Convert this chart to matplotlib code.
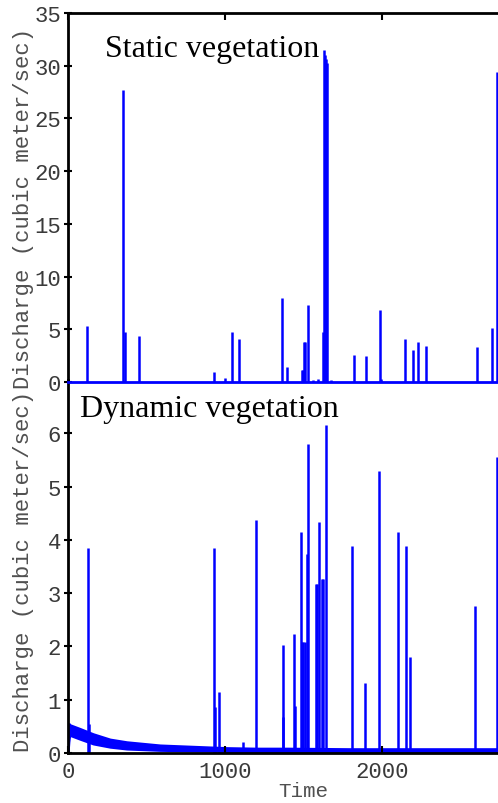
import matplotlib
matplotlib.use('Agg')
import matplotlib.pyplot as plt

# Static vegetation: discharge spikes (time, value)
static_t = [123, 352, 365, 452, 932, 1000, 1047, 1087, 1365, 1393, 1488, 1495, 1503,
            1510, 1527, 1562, 1594, 1622, 1631, 1636, 1641, 1648, 1673, 1824, 1900,
            1985, 1992, 2149, 2200, 2231, 2280, 2603, 2701, 2731]
static_q = [5.35, 27.7, 4.7, 4.4, 0.95, 0.4, 4.7, 4.05, 8.0, 1.4, 1.1, 1.1, 3.8,
            3.8, 7.3, 0.2, 0.3, 4.7, 31.5, 31.0, 30.6, 30.3, 0.2, 2.6, 2.5,
            6.8, 0.3, 4.1, 3.0, 3.75, 3.45, 3.3, 5.1, 29.4]
static_base_t = [0, 3000]
static_base_q = [0.0, 0.0]

# Dynamic vegetation: spikes
dyn_t = [125, 131, 932, 937, 964, 1115, 1197, 1367, 1372, 1439, 1446, 1484, 1492,
         1500, 1508, 1520, 1527, 1578, 1584, 1599, 1620, 1626, 1643, 1811, 1892,
         1983, 2100, 2153, 2180, 2592, 2731]
dyn_q = [3.85, 0.55, 3.85, 0.86, 1.15, 0.2, 4.38, 2.03, 0.68, 2.23, 0.89, 4.15, 2.08,
         2.08, 2.08, 3.73, 5.8, 3.17, 3.17, 4.33, 3.26, 3.26, 6.15, 3.88, 1.31,
         5.3, 4.15, 3.88, 1.80, 2.75, 5.55]

# Dynamic vegetation: baseflow band (upper / lower envelope)
base_t = [0, 8, 13, 76, 161, 268, 374, 586, 798, 1011, 1200, 1400, 1600, 1800,
          2000, 2200, 2400, 2600, 2800, 3000]
base_hi = [0.0, 0.55, 0.53, 0.46, 0.36, 0.26, 0.21, 0.15, 0.125, 0.1, 0.09, 0.09,
           0.085, 0.08, 0.08, 0.08, 0.08, 0.08, 0.08, 0.08]
base_lo = [0.0, 0.3, 0.33, 0.26, 0.17, 0.11, 0.075, 0.05, 0.04, 0.03, 0.02, 0.02,
           0.02, 0.02, 0.02, 0.02, 0.02, 0.02, 0.02, 0.02]

xticks = [0, 1000, 2000]
blue = '#0000ff'
mono = 'Liberation Mono'
serif = 'Liberation Serif'
gray = '#3a3a3a'

fig = plt.figure(figsize=(4.98, 8.04), dpi=100)
ax2 = fig.add_axes([0.1365, 0.0622, 0.9458, 0.4639])
ax1 = fig.add_axes([0.1365, 0.5236, 0.9458, 0.459])
ax1.patch.set_visible(False)

# top panel
ax1.plot(static_base_t, static_base_q, color=blue, lw=2, clip_on=False, zorder=3)
ax1.vlines(static_t, 0, static_q, colors=blue, lw=1.8, zorder=3)
ax1.set_xlim(0, 3000)
ax1.set_ylim(0, 35)
ax1.set_yticks(range(0, 36, 5))
ax1.set_xticks(xticks)
ax1.tick_params(axis='x', direction='in', top=True, bottom=False, labelbottom=False,
                length=5, width=1.5)
ax1.tick_params(axis='y', direction='inout', length=6, width=1.5, pad=2,
                labelsize=16, labelcolor=gray)
ax1.spines['bottom'].set_visible(False)
ax1.set_ylabel('Discharge (cubic meter/sec)', fontfamily=mono, fontsize=16, color='#505050')
ax1.yaxis.set_label_coords(-0.072, 0.474)

# bottom panel
ax2.fill_between(base_t, base_lo, base_hi, color=blue, lw=1.5)
ax2.vlines(dyn_t, 0, dyn_q, colors=blue, lw=1.8)
ax2.set_xlim(0, 3000)
ax2.set_ylim(0, 7)
ax2.set_yticks(range(0, 7))
ax2.set_xticks(xticks)
ax2.tick_params(axis='x', direction='in', length=5, width=1.5, pad=6,
                labelsize=16, labelcolor=gray)
ax2.tick_params(axis='y', direction='inout', length=6, width=1.5, pad=2,
                labelsize=16, labelcolor=gray)
ax2.spines['top'].set_visible(False)
ax2.set_ylabel('Discharge (cubic meter/sec)', fontfamily=mono, fontsize=16, color='#505050')
ax2.yaxis.set_label_coords(-0.072, 0.489)
ax2.set_xlabel('Time', fontfamily=mono, fontsize=15, color='#505050')
ax2.xaxis.set_label_coords(0.5, -0.075)

for ax in (ax1, ax2):
    for s in ax.spines.values():
        s.set_linewidth(2)
    for lab in ax.get_xticklabels() + ax.get_yticklabels():
        lab.set_fontfamily(mono)

fig.text(105 / 498, 1 - 57 / 804, 'Static vegetation', fontfamily=serif, fontsize=23,
         va='baseline', ha='left')
fig.text(80 / 498, 1 - 417 / 804, 'Dynamic vegetation', fontfamily=serif, fontsize=23,
         va='baseline', ha='left')

fig.savefig('out.png', dpi=100)
